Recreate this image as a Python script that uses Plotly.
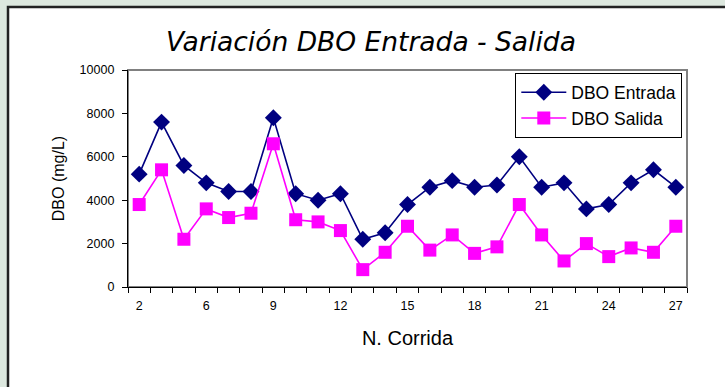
import plotly.graph_objects as go

runs = [2, 3, 4, 6, 7, 8, 9, 10, 11, 12, 13, 14, 15, 16, 17, 18, 19, 20, 21, 22, 23, 24, 25, 26, 27]
dbo_entrada = [5200, 7600, 5600, 4800, 4400, 4400, 7800, 4300, 4000, 4300, 2200, 2500, 3800,
               4600, 4900, 4600, 4700, 6000, 4600, 4800, 3600, 3800, 4800, 5400, 4600]
dbo_salida = [3800, 5400, 2200, 3600, 3200, 3400, 6600, 3100, 3000, 2600, 800, 1600, 2800,
              1700, 2400, 1550, 1850, 3800, 2400, 1200, 2000, 1400, 1800, 1600, 2800]
x_labels = [str(r) for r in runs]
shown_labels = [lab if i % 3 == 0 else "" for i, lab in enumerate(x_labels)]
y_ticks = [0, 2000, 4000, 6000, 8000, 10000]
y_labels = [str(v) for v in y_ticks]

FONT = "Liberation Sans"

fig = go.Figure()
fig.add_trace(go.Scatter(
    x=x_labels, y=dbo_entrada, name="DBO Entrada", mode="lines+markers",
    line=dict(color="#000080", width=1.6),
    marker=dict(symbol="diamond", size=13, color="#000080"),
))
fig.add_trace(go.Scatter(
    x=x_labels, y=dbo_salida, name="DBO Salida", mode="lines+markers",
    line=dict(color="#FF00FF", width=1.6),
    marker=dict(symbol="square", size=13, color="#FF00FF"),
))

L, R, T, B = 128, 38, 70, 100
W, H = 725, 387
pw, ph = W - L - R, H - T - B

def px_x(p):
    return (p - L) / pw

def px_y(p):
    return (H - B - p) / ph

fig.update_layout(
    width=W, height=H,
    margin=dict(l=L, r=R, t=T, b=B),
    paper_bgcolor="#dde8df",
    plot_bgcolor="white",
    showlegend=True,
    title=dict(text="<i>Variación DBO Entrada - Salida</i>", xref="container", x=371 / W,
               xanchor="center", y=1 - 42 / H, yanchor="middle",
               font=dict(family="DejaVu Sans", size=26.5, color="black")),
    legend=dict(x=px_x(515), y=px_y(73), xanchor="left", yanchor="top",
                bgcolor="white", bordercolor="black", borderwidth=1.3,
                font=dict(family=FONT, size=17.5, color="black"),
                itemwidth=45, tracegroupgap=2),
    xaxis=dict(type="category", tickvals=x_labels, ticktext=shown_labels, tickangle=0,
               tickson="boundaries", ticks="outside", ticklen=5, tickcolor="black",
               ticklabelstandoff=7,
               showline=True, linecolor="black", linewidth=1.3, showgrid=False,
               zeroline=False, range=[-0.5, len(runs) - 0.5],
               tickfont=dict(family=FONT, size=12.5, color="black"),
               title=dict(text="N. Corrida", font=dict(family=FONT, size=20, color="black"),
                          standoff=18)),
    yaxis=dict(range=[0, 10000], tickvals=y_ticks, ticktext=y_labels,
               ticks="outside", ticklen=5, tickcolor="black", ticklabelstandoff=5,
               showline=True, linecolor="black", linewidth=1.3, showgrid=False,
               zeroline=False,
               tickfont=dict(family=FONT, size=12.5, color="black"),
               title=dict(text="DBO (mg/L)", font=dict(family=FONT, size=16, color="black"),
                          standoff=10)),
    shapes=[
        dict(type="rect", xref="paper", yref="paper", layer="below",
             x0=px_x(8), x1=px_x(760), y0=px_y(420), y1=px_y(7),
             fillcolor="white", line=dict(color="#222222", width=2.5)),
        dict(type="rect", xref="paper", yref="paper", layer="below",
             x0=0, x1=1, y0=0, y1=1, line=dict(color="#808080", width=2)),
    ],
)

fig.write_html("out.html", config={"displayModeBar": False},
               post_script="document.body.style.margin='0';document.body.style.overflow='hidden';")
